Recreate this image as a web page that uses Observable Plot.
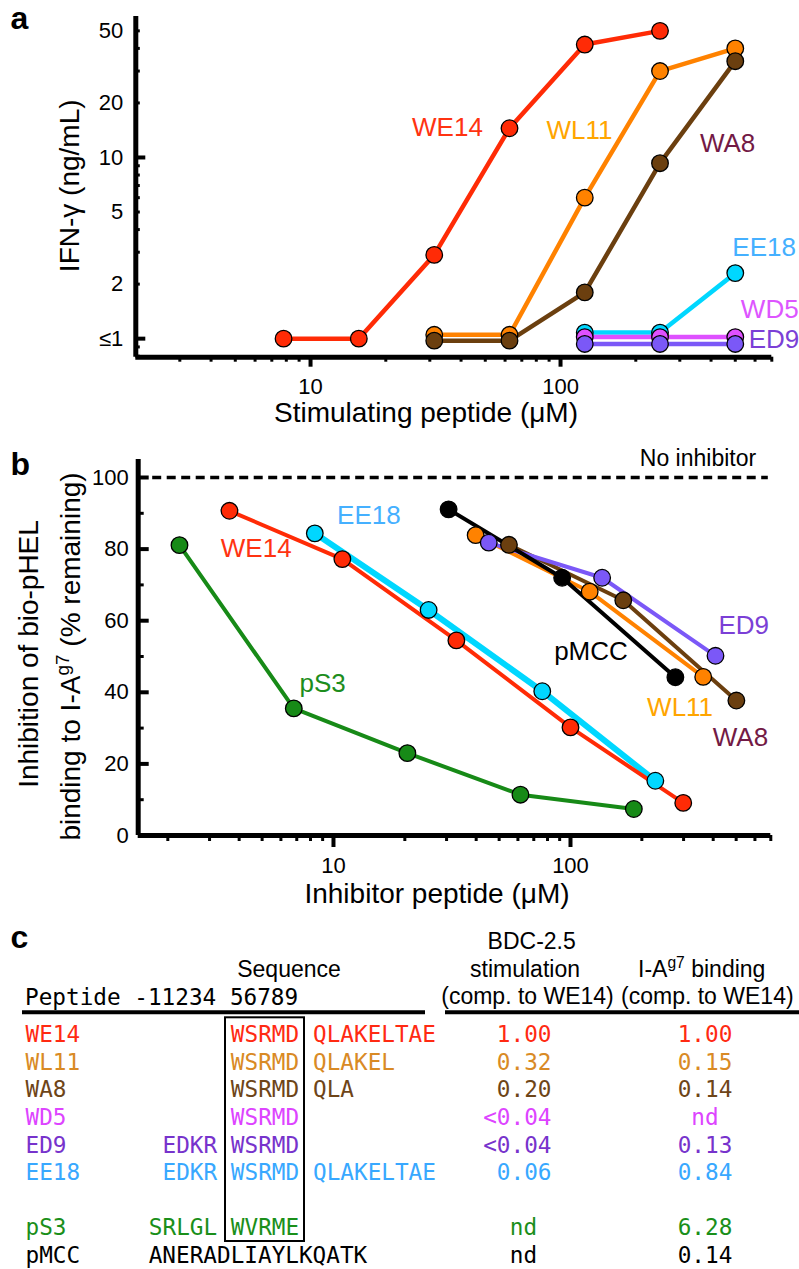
<!DOCTYPE html>
<html><head><meta charset="utf-8">
<script src="https://cdn.jsdelivr.net/npm/d3@7"></script>
<script src="https://cdn.jsdelivr.net/npm/@observablehq/plot@0.6"></script>
<style>
html,body{margin:0;padding:0;background:#fff;}
#root{width:799px;}
#root svg{display:block;overflow:visible;}
</style></head>
<body><div id="root"></div>
<script>
// ================= DATA =================
// Panel a: IFN-γ (ng/mL) vs stimulating peptide (µM)
const stimDose = [7.8, 15.6, 31.25, 62.5, 125, 250, 500];
const ifnWE14 = [1.0, 1.0, 2.9, 14.5, 42, 50, null];
const ifnWL11 = [null, null, 1.05, 1.05, 6.0, 30, 40];
const ifnWA8  = [null, null, 0.975, 0.975, 1.8, 9.3, 34];
const ifnEE18 = [null, null, null, null, 1.08, 1.08, 2.3];
const ifnWD5  = [null, null, null, null, 1.02, 1.02, 1.02];
const ifnED9  = [null, null, null, null, 0.935, 0.935, 0.935];
const seriesA = ["WE14", "WL11", "WA8", "EE18", "WD5", "ED9"];
const labelAx = [35.3, 119, 466, 652, 687, 714];
const labelAy = [14.6, 14.1, 11.9, 3.19, 1.445, 0.987];
const xTickLabelsA = [10, 100];
const yTicksA = [1, 2, 5, 10, 20, 50];
const yTickLabelsA = ["≤1", "2", "5", "10", "20", "50"];

// Panel b: % remaining vs inhibitor peptide (µM)
const inhWE14Dose = [3.64, 10.9, 33, 100, 299];
const inhWE14Pct  = [90.7, 77.2, 54.5, 30.2, 9.1];
const inhEE18Dose = [8.34, 25.2, 76, 228];
const inhEE18Pct  = [84.4, 63.0, 40.3, 15.3];
const inhPS3Dose  = [2.24, 6.8, 20.5, 61.5, 185];
const inhPS3Pct   = [81.1, 35.5, 23.0, 11.4, 7.4];
const inhWL11Dose = [39.8, 120.5, 363];
const inhWL11Pct  = [83.9, 68.1, 44.3];
const inhWA8Dose  = [55, 167, 501];
const inhWA8Pct   = [81.2, 65.7, 37.7];
const inhED9Dose  = [45.2, 136, 409];
const inhED9Pct   = [81.8, 72.0, 50.2];
const inhPMCCDose = [30.6, 92.2, 277];
const inhPMCCPct  = [91.1, 72.0, 44.2];
const seriesB = ["EE18", "WE14", "pS3", "WL11", "WA8", "ED9", "pMCC"];
const labelBnames = ["WE14", "EE18", "pS3", "pMCC", "ED9", "WL11", "WA8"];
const labelBx = [4.72, 14.1, 9.0, 122, 538, 290, 521];
const labelBy = [80.0, 89.2, 42.5, 51.4, 58.7, 35.8, 27.2];
const noInhibitorLevel = 100;
const noInhibitorLabelX = 345, noInhibitorLabelY = 105.3;
const xTickLabelsB = [10, 100];
const yTicksB = [0, 20, 40, 60, 80, 100];

// Panel c: table
const tablePeptides = ["WE14", "WL11", "WA8", "WD5", "ED9", "EE18", "pS3", "pMCC"];
const tableRow   = [0, 1, 2, 3, 4, 5, 7, 8];
const seqNterm   = ["", "", "", "", "EDKR", "EDKR", "SRLGL", ""];
const seqCore    = ["WSRMD", "WSRMD", "WSRMD", "WSRMD", "WSRMD", "WSRMD", "WVRME", ""];
const seqCterm   = ["QLAKELTAE", "QLAKEL", "QLA", "", "", "QLAKELTAE", "", ""];
const seqFull    = ["", "", "", "", "", "", "", "ANERADLIAYLKQATK"];
const stimVsWE14 = ["1.00", "0.32", "0.20", "<0.04", "<0.04", "0.06", "nd", "nd"];
const bindVsWE14 = ["1.00", "0.15", "0.14", "nd", "0.13", "0.84", "6.28", "0.14"];

// ================= STYLES =================
const FONT = "'Liberation Sans', Arial, Helvetica, sans-serif";
const MONO = "'DejaVu Sans Mono', monospace";
const lineColor = {WE14: "#ff2b06", WL11: "#ff8200", WA8: "#6b3f0f", EE18: "#00d7ff", WD5: "#de50ff", ED9: "#7b58f7", pS3: "#178a17", pMCC: "#000000"};
const labelColor = {WE14: "#ff3311", WL11: "#ffa500", WA8: "#731a45", EE18: "#45b0ff", WD5: "#dd55ff", ED9: "#7b3fd6", pS3: "#1d8d1d", pMCC: "#000000"};
const tableColor = {WE14: "#ff2a12", WL11: "#d98a25", WA8: "#6e4518", WD5: "#dd44ff", ED9: "#7733cc", EE18: "#38a8ff", pS3: "#1a8f1a", pMCC: "#000000"};
const baseStyle = {fontFamily: FONT, fontSize: "22px", background: "white", overflow: "visible"};

function minorLogTicks(dom, majors) {
  const out = [];
  for (let p = Math.floor(Math.log10(dom[0])); p <= Math.ceil(Math.log10(dom[1])); p++) {
    for (let k = 1; k <= 9; k++) {
      const v = k * Math.pow(10, p);
      if (v > dom[0] * 1.001 && v <= dom[1] * 1.001 && !majors.includes(v)) out.push(+v.toPrecision(6));
    }
  }
  return out;
}

function rich(svg, x, y, parts, o = {}) {
  const size = o.size || 22;
  const t = d3.select(svg).append("text")
    .attr("transform", `translate(${x},${y})` + (o.rotate ? ` rotate(${o.rotate})` : ""))
    .attr("text-anchor", o.anchor || "middle")
    .attr("font-size", size)
    .attr("fill", o.fill || "black");
  if (o.family) t.attr("font-family", o.family);
  if (o.weight) t.attr("font-weight", o.weight);
  let shifted = false;
  for (const p of parts) {
    const sup = Array.isArray(p);
    const ts = t.append("tspan").text(sup ? p[0] : p);
    if (sup) { ts.attr("font-size", size * 0.68).attr("dy", -size * 0.38); shifted = true; }
    else if (shifted) { ts.attr("dy", size * 0.38); shifted = false; }
  }
}

const root = document.getElementById("root");

// ================= PANEL A =================
{
  const xDom = [2, 700], yDom = [0.79, 60];
  const W = 799, H = 432, ml = 135.3, mr = 27.7, mt = 16, mb = H - 356.7;
  const inner = W - ml - mr;
  const ifn = {WE14: ifnWE14, WL11: ifnWL11, WA8: ifnWA8, EE18: ifnEE18, WD5: ifnWD5, ED9: ifnED9};
  const pts = n => stimDose.map((x, i) => ({x, y: ifn[n][i]})).filter(d => d.y != null);
  const yLong = [1, 10];
  const yShort = minorLogTicks(yDom, yLong).filter(v => v < 60);
  const marks = [
    Plot.axisX(minorLogTicks(xDom, xTickLabelsA), {tickSize: 5, strokeWidth: 3, tickFormat: () => "", label: null}),
    Plot.axisX(xTickLabelsA, {tickSize: 10, tickPadding: 11.3, strokeWidth: 4, fontSize: 22, label: null, tickFormat: d => String(d)}),
    Plot.axisY(yTicksA, {tickSize: 0, tickPadding: 12.5, fontSize: 22, label: null, tickFormat: d => yTickLabelsA[yTicksA.indexOf(d)]}),
    Plot.tickY(yShort, {y: d => d, insetRight: inner - 4.5, strokeWidth: 3}),
    Plot.tickY(yLong, {y: d => d, insetRight: inner - 10, strokeWidth: 4}),
    Plot.ruleX([xDom[0]], {strokeWidth: 5}),
    Plot.ruleY([yDom[0]], {strokeWidth: 5}),
  ];
  for (const n of seriesA) marks.push(Plot.line(pts(n), {x: "x", y: "y", stroke: lineColor[n], strokeWidth: 4.5}));
  for (const n of seriesA) marks.push(Plot.dot(pts(n), {x: "x", y: "y", r: 8.3, fill: lineColor[n], stroke: "black", strokeWidth: 1.3}));
  seriesA.forEach((n, i) => marks.push(Plot.text([n], {x: labelAx[i], y: labelAy[i], text: d => d, fill: labelColor[n], fontSize: 26})));
  const svg = Plot.plot({
    width: W, height: H, marginLeft: ml, marginRight: mr, marginTop: mt, marginBottom: mb,
    x: {type: "log", domain: xDom}, y: {type: "log", domain: yDom},
    style: baseStyle, marks
  });
  rich(svg, 10.5, 29, ["a"], {size: 32, weight: "bold", anchor: "start"});
  rich(svg, 79, 185.8, ["IFN-γ (ng/mL)"], {size: 28, rotate: -90});
  rich(svg, 426, 421.7, ["Stimulating peptide (μM)"], {size: 28});
  root.append(svg);
}

// ================= PANEL B =================
{
  const xDom = [1.5, 700], yDom = [0, 105];
  const W = 799, H = 480, ml = 137.7, mr = 28.7, mt = 27.1, mb = 77;
  const inner = W - ml - mr;
  const src = {
    WE14: [inhWE14Dose, inhWE14Pct], EE18: [inhEE18Dose, inhEE18Pct], pS3: [inhPS3Dose, inhPS3Pct],
    WL11: [inhWL11Dose, inhWL11Pct], WA8: [inhWA8Dose, inhWA8Pct], ED9: [inhED9Dose, inhED9Pct], pMCC: [inhPMCCDose, inhPMCCPct]
  };
  const pts = n => src[n][0].map((x, i) => ({x, y: src[n][1][i]}));
  const yLong = [20, 40, 60, 80, 100];
  const yShort = [10, 30, 50, 70, 90];
  const marks = [
    Plot.axisX(minorLogTicks(xDom, xTickLabelsB), {tickSize: 6, strokeWidth: 3, tickFormat: () => "", label: null}),
    Plot.axisX(xTickLabelsB, {tickSize: 12, tickPadding: 10, strokeWidth: 4, fontSize: 22, label: null, tickFormat: d => String(d)}),
    Plot.axisY(yTicksB, {tickSize: 0, tickPadding: 9.5, fontSize: 22, label: null, tickFormat: d => String(d)}),
    Plot.tickY(yShort, {y: d => d, insetRight: inner - 6, strokeWidth: 3}),
    Plot.tickY(yLong, {y: d => d, insetRight: inner - 11, strokeWidth: 4}),
    Plot.ruleX([xDom[0]], {strokeWidth: 5}),
    Plot.ruleY([yDom[0]], {strokeWidth: 5}),
    Plot.ruleY([noInhibitorLevel], {strokeWidth: 3.5, strokeDasharray: "9,5.5", insetLeft: 14.5, insetRight: 2.5}),
    Plot.text(["No inhibitor"], {x: noInhibitorLabelX, y: noInhibitorLabelY, text: d => d, fontSize: 23, fill: "black"})
  ];
  for (const n of seriesB) marks.push(Plot.line(pts(n), {x: "x", y: "y", stroke: lineColor[n], strokeWidth: n === "EE18" ? 6 : 4}));
  for (const n of seriesB) marks.push(Plot.dot(pts(n), {x: "x", y: "y", r: 8.3, fill: lineColor[n], stroke: "black", strokeWidth: 1.3}));
  labelBnames.forEach((n, i) => marks.push(Plot.text([n], {x: labelBx[i], y: labelBy[i], text: d => d, fill: labelColor[n], fontSize: 26})));
  const svg = Plot.plot({
    width: W, height: H, marginLeft: ml, marginRight: mr, marginTop: mt, marginBottom: mb,
    x: {type: "log", domain: xDom}, y: {type: "linear", domain: yDom},
    style: baseStyle, marks
  });
  rich(svg, 10.5, 43, ["b"], {size: 32, weight: "bold", anchor: "start"});
  rich(svg, 38.3, 222, ["Inhibition of bio-pHEL"], {size: 28, rotate: -90});
  rich(svg, 80, 224.5, ["binding to I-A", ["g7"], " (% remaining)"], {size: 28, rotate: -90});
  rich(svg, 437, 471, ["Inhibitor peptide (μM)"], {size: 28});
  root.append(svg);
}

// ================= PANEL C =================
{
  const W = 799, H = 357;
  const charW = 13.69, seqLeft = 25, fs = 22.7;
  const colX = c => seqLeft + c * charW;
  const rowBase = r => 129.7 + r * 27.6;
  const rows = tablePeptides.map((name, i) => ({
    name, row: tableRow[i], nterm: seqNterm[i], core: seqCore[i], cterm: seqCterm[i],
    full: seqFull[i], stim: stimVsWE14[i], bind: bindVsWE14[i]
  }));
  const common = {y: d => rowBase(d.row), fill: d => tableColor[d.name], fontFamily: MONO, fontSize: fs, lineAnchor: "bottom"};
  const svg = Plot.plot({
    width: W, height: H, margin: 0,
    x: {type: "identity", axis: null}, y: {type: "identity", axis: null}, color: {type: "identity"},
    style: baseStyle,
    marks: [
      Plot.ruleY([99.7], {x1: 22, x2: 425, strokeWidth: 4}),
      Plot.ruleY([99.7], {x1: 445, x2: 799, strokeWidth: 4}),
      Plot.rect([0], {x1: 225, x2: 304, y1: 105.3, y2: 329, fill: "none", stroke: "black", strokeWidth: 2}),
      Plot.text(rows, {...common, x: colX(0), text: "name", textAnchor: "start"}),
      Plot.text(rows.filter(d => d.nterm), {...common, x: colX(14), text: "nterm", textAnchor: "end"}),
      Plot.text(rows.filter(d => d.core), {...common, x: colX(15), text: "core", textAnchor: "start"}),
      Plot.text(rows.filter(d => d.cterm), {...common, x: colX(21), text: "cterm", textAnchor: "start"}),
      Plot.text(rows.filter(d => d.full), {...common, x: colX(9), text: "full", textAnchor: "start"}),
      Plot.text(rows.filter(d => d.stim !== "nd"), {...common, x: 551, text: "stim", textAnchor: "end"}),
      Plot.text(rows.filter(d => d.stim === "nd"), {...common, x: 523, text: "stim", textAnchor: "middle"}),
      Plot.text(rows, {...common, x: 704.5, text: "bind", textAnchor: "middle"})
    ]
  });
  rich(svg, 10.5, 36.3, ["c"], {size: 32, weight: "bold", anchor: "start"});
  rich(svg, 289, 64.5, ["Sequence"], {size: 23});
  rich(svg, seqLeft, 92.8, ["Peptide -11234 56789"], {size: fs, family: MONO, anchor: "start"});
  rich(svg, 531.7, 37.3, ["BDC-2.5"], {size: 23});
  rich(svg, 525, 64.5, ["stimulation"], {size: 23});
  rich(svg, 527.5, 91.8, ["(comp. to WE14)"], {size: 23});
  rich(svg, 701.7, 64.5, ["I-A", ["g7"], " binding"], {size: 23});
  rich(svg, 707.3, 91.8, ["(comp. to WE14)"], {size: 23});
  root.append(svg);
}
</script>
</body></html>
